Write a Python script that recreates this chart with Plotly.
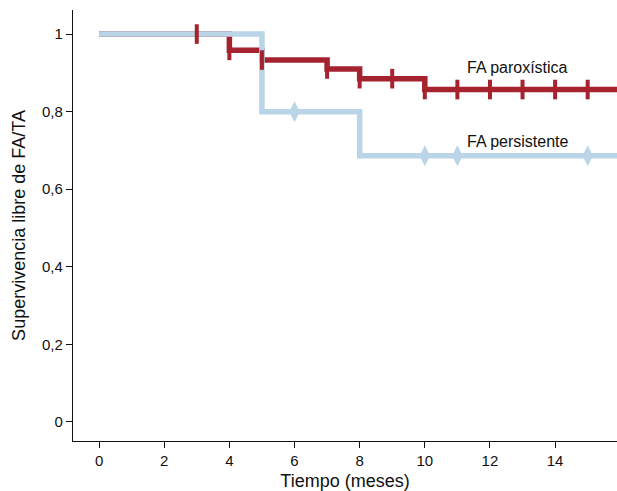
import plotly.graph_objects as go

# FA paroxística (step curve)
parox_t = [0, 4, 5, 7, 8, 10, 17]
parox_s = [1.0, 0.958, 0.933, 0.91, 0.885, 0.857, 0.857]
parox_cens_t = [3, 4, 5, 7, 8, 9, 10, 11, 12, 13, 14, 15]
parox_cens_s = [1.0, 0.958, 0.933, 0.91, 0.885, 0.885, 0.857, 0.857, 0.857, 0.857, 0.857, 0.857]

# FA persistente (step curve)
pers_t = [0, 5, 8, 17]
pers_s = [1.0, 0.8, 0.686, 0.686]
pers_cens_t = [6, 10, 11, 15]
pers_cens_s = [0.8, 0.686, 0.686, 0.686]

x_ticks = [0, 2, 4, 6, 8, 10, 12, 14]
y_ticks = [0, 0.2, 0.4, 0.6, 0.8, 1]
y_ticktext = ["0", "0,2", "0,4", "0,6", "0,8", "1"]

RED = "#a5232f"
BLUE = "#b9d5e7"
TXT = "#111"

fig = go.Figure()
fig.add_trace(go.Scatter(x=parox_t, y=parox_s, mode="lines", line=dict(color=RED, width=5.5, shape="hv"),
                         showlegend=False, hoverinfo="skip"))
fig.add_trace(go.Scatter(x=pers_t, y=pers_s, mode="lines", line=dict(color=BLUE, width=5.5, shape="hv"),
                         showlegend=False, hoverinfo="skip"))
fig.add_trace(go.Scatter(x=parox_cens_t, y=parox_cens_s, mode="markers",
                         marker=dict(symbol="line-ns", size=14, line=dict(color=RED, width=4)),
                         showlegend=False))
fig.add_trace(go.Scatter(x=pers_cens_t, y=pers_cens_s, mode="markers",
                         marker=dict(symbol="diamond-tall", size=15, color=BLUE, line=dict(width=0)),
                         showlegend=False))

fig.add_annotation(x=12.85, y=0.915, text="FA paroxística", showarrow=False, xanchor="center",
                   font=dict(size=16, color=TXT))
fig.add_annotation(x=12.85, y=0.723, text="FA persistente", showarrow=False, xanchor="center",
                   font=dict(size=16, color=TXT))

fig.update_layout(
    width=617, height=491,
    margin=dict(l=73, r=0, t=10, b=50),
    paper_bgcolor="white", plot_bgcolor="white",
    font=dict(family="Arial, Liberation Sans, sans-serif", size=15, color=TXT),
    xaxis=dict(range=[-0.8, 15.9], tickmode="array", tickvals=x_ticks, showgrid=False, zeroline=False,
               showline=True, linecolor=TXT, linewidth=1.3, ticks="outside", ticklen=6, tickcolor=TXT,
               automargin=False,
               title=dict(text="Tiempo (meses)", font=dict(size=18), standoff=9)),
    yaxis=dict(range=[-0.049, 1.062], tickmode="array", tickvals=y_ticks, ticktext=y_ticktext,
               showgrid=False, zeroline=False, showline=True, linecolor=TXT, linewidth=1.3,
               ticks="outside", ticklen=6, tickcolor=TXT, automargin=False,
               title=dict(text="Supervivencia libre de FA/TA", font=dict(size=18), standoff=11)),
)
fig.write_html("out.html", config={"displayModeBar": False},
               post_script="document.body.style.margin='0';document.body.style.overflow='hidden';")
